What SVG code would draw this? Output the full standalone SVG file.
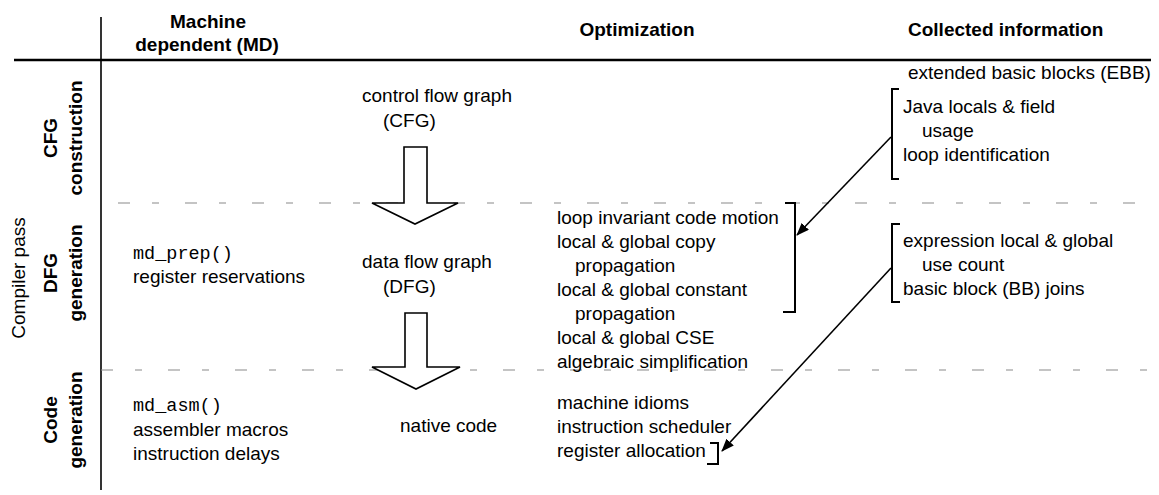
<svg xmlns="http://www.w3.org/2000/svg" width="1159" height="495" viewBox="0 0 1159 495">
  <style>
    .t { font-family: "Liberation Sans", Arial, sans-serif; font-size: 19px; fill: #000; }
    .b { font-weight: bold; }
    .m { font-family: "Liberation Mono", "Courier New", monospace; font-size: 18.5px; fill: #000; }
    .rule { stroke: #000; fill: none; }
    .sep { stroke: #8a8a8a; stroke-width: 1.2; stroke-dasharray: 12 22 7 26; fill: none; }
    .blk { fill: #fff; stroke: #000; stroke-width: 1.6; stroke-linejoin: miter; }
    .brk { stroke: #000; stroke-width: 2; fill: none; }
    .link { stroke: #000; stroke-width: 1.6; fill: none; }
  </style>
  <defs>
    <marker id="ah" viewBox="0 0 13 10" refX="12" refY="5" markerWidth="13" markerHeight="10" markerUnits="userSpaceOnUse" orient="auto">
      <path d="M0,0 L13,5 L0,10 Z" fill="#000"/>
    </marker>
  </defs>

  <rect width="1159" height="495" fill="#fff"/>

  <!-- table frame -->
  <g id="frame">
    <line class="rule" x1="14" y1="60" x2="1151" y2="60" stroke-width="2.6"/>
    <line class="rule" x1="101" y1="17" x2="101" y2="490" stroke-width="1.6"/>
    <line class="sep" x1="118" y1="203" x2="1151" y2="203"/>
    <line class="sep" x1="101" y1="370" x2="1151" y2="370"/>
  </g>

  <!-- column headings -->
  <g id="head-md">
    <text class="t b" x="208" y="28" text-anchor="middle">Machine</text>
    <text class="t b" x="207" y="51" text-anchor="middle">dependent (MD)</text>
  </g>
  <g id="head-opt">
    <text class="t b" x="637" y="36" text-anchor="middle">Optimization</text>
  </g>
  <g id="head-info">
    <text class="t b" x="908" y="36">Collected information</text>
  </g>

  <!-- row headings -->
  <g id="row-pass">
    <text class="t" transform="translate(25,278) rotate(-90)" text-anchor="middle">Compiler pass</text>
  </g>
  <g id="row-cfg">
    <text class="t b" transform="translate(57,138) rotate(-90)" text-anchor="middle">CFG</text>
    <text class="t b" transform="translate(82,138) rotate(-90)" text-anchor="middle">construction</text>
  </g>
  <g id="row-dfg">
    <text class="t b" transform="translate(57,273) rotate(-90)" text-anchor="middle">DFG</text>
    <text class="t b" transform="translate(82,273) rotate(-90)" text-anchor="middle">generation</text>
  </g>
  <g id="row-code">
    <text class="t b" transform="translate(57,420) rotate(-90)" text-anchor="middle">Code</text>
    <text class="t b" transform="translate(82,420) rotate(-90)" text-anchor="middle">generation</text>
  </g>

  <!-- machine dependent column -->
  <g id="md-dfg">
    <text class="m" x="133" y="259">md_prep()</text>
    <text class="t" x="133" y="283">register reservations</text>
  </g>
  <g id="md-code">
    <text class="m" x="133" y="411">md_asm()</text>
    <text class="t" x="133" y="436">assembler macros</text>
    <text class="t" x="133" y="460">instruction delays</text>
  </g>

  <!-- intermediate forms -->
  <g id="cfg">
    <text class="t" x="362" y="102">control flow graph</text>
    <text class="t" x="383" y="127">(CFG)</text>
  </g>
  <g id="dfg">
    <text class="t" x="362" y="268">data flow graph</text>
    <text class="t" x="383" y="293">(DFG)</text>
  </g>
  <g id="native">
    <text class="t" x="400" y="432">native code</text>
  </g>

  <!-- optimizations -->
  <g id="opt-dfg">
    <text class="t" x="557" y="224">loop invariant code motion</text>
    <text class="t" x="557" y="248">local &amp; global copy</text>
    <text class="t" x="575" y="272">propagation</text>
    <text class="t" x="557" y="296">local &amp; global constant</text>
    <text class="t" x="575" y="320">propagation</text>
    <text class="t" x="557" y="344">local &amp; global CSE</text>
    <text class="t" x="557" y="368">algebraic simplification</text>
  </g>
  <g id="opt-code">
    <text class="t" x="557" y="409">machine idioms</text>
    <text class="t" x="557" y="433">instruction scheduler</text>
    <text class="t" x="557" y="457">register allocation</text>
  </g>

  <!-- collected information -->
  <g id="info-cfg">
    <text class="t" x="908" y="79">extended basic blocks (EBB)</text>
    <text class="t" x="903" y="113">Java locals &amp; field</text>
    <text class="t" x="922" y="137">usage</text>
    <text class="t" x="903" y="161">loop identification</text>
  </g>
  <g id="info-dfg">
    <text class="t" x="903" y="247">expression local &amp; global</text>
    <text class="t" x="922" y="271">use count</text>
    <text class="t" x="903" y="295">basic block (BB) joins</text>
  </g>

  <!-- connectors: pass arrows, brackets and links -->
  <g id="connectors">
    <polygon class="blk" points="404,147 427,147 427,203 458,203 415,224 372,203 404,203"/>
    <polygon class="blk" points="405,313 427,313 427,367 460,367 416,389 372,367 405,367"/>
    <polyline class="brk" points="785,203 795,203 795,312 783,312"/>
    <polyline class="brk" points="710,443 718,443 718,464 707,464"/>
    <polyline class="brk" points="899,89 892,89 892,179 899,179"/>
    <polyline class="brk" points="900,224 892,224 892,302 900,302"/>
    <line class="link" x1="891" y1="137" x2="797" y2="235" marker-end="url(#ah)"/>
    <line class="link" x1="891" y1="268" x2="722" y2="451" marker-end="url(#ah)"/>
  </g>
</svg>
